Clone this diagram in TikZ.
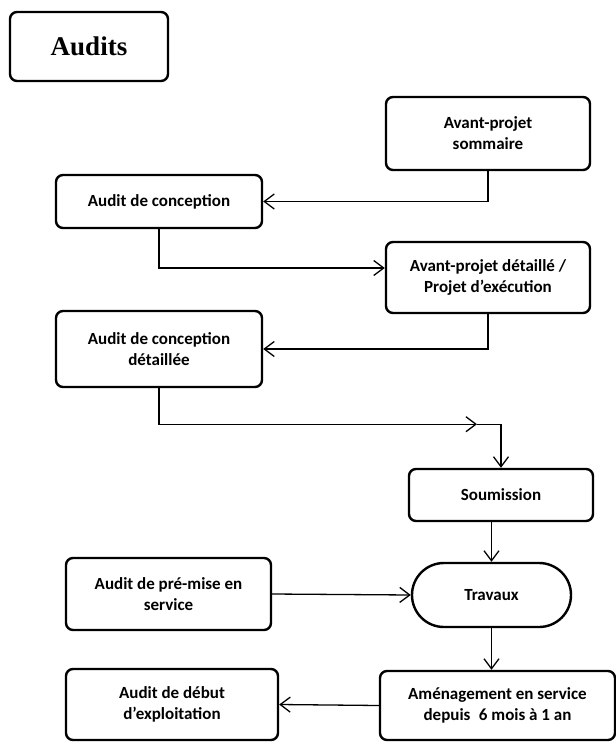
\documentclass[tikz,border=0pt]{standalone}
\usepackage{fontspec}
\setmainfont{Carlito}
\newfontfamily\titlefont{Liberation Serif}
\usetikzlibrary{arrows.meta,calc}
\begin{document}
\begin{tikzpicture}[x=1pt,y=-1pt,
  box/.style={draw, line width=2.4pt, rounded corners=7pt, align=center,
    font=\fontsize{17}{21}\selectfont\bfseries, inner sep=0pt},
  conn/.style={line width=1.3pt, -{Straight Barb[length=10pt,width=15pt]}},
  plainline/.style={line width=1.3pt}]
\useasboundingbox (0,0) rectangle (616,742);
\node[box, minimum width=158pt, minimum height=69pt,
  font=\titlefont\fontsize{27}{30}\selectfont\bfseries] (audits) at (89,46.5) {Audits};
\node[box, minimum width=204pt, minimum height=73pt] (aps) at (488,133.5) {Avant-projet\\sommaire};
\node[box, minimum width=206pt, minimum height=53pt] (ac) at (159,201.5) {Audit de conception};
\node[box, minimum width=204pt, minimum height=71pt] (apd) at (488,277.5) {Avant-projet détaillé /\\Projet d’exécution};
\node[box, minimum width=206pt, minimum height=76pt] (acd) at (159,349) {Audit de conception\\détaillée};
\node[box, minimum width=184pt, minimum height=52pt] (soum) at (501,495) {Soumission};
\node[box, minimum width=159pt, minimum height=64pt, rounded corners=31.9pt] (trav) at (491.5,595) {Travaux};
\node[box, minimum width=205pt, minimum height=72pt] (apms) at (168.5,594) {Audit de pré-mise en\\service};
\node[box, minimum width=235pt, minimum height=69pt] (amen) at (497.5,705.5) {Aménagement en service\\depuis\enspace 6 mois à 1 an};
\node[box, minimum width=212pt, minimum height=71pt] (adeb) at (172,704.5) {Audit de début\\d’exploitation};

\draw[conn] (aps.south) |- (ac.east);
\draw[conn] (ac.south) |- ($(apd.west)+(0,-9.5)$);
\draw[conn] (apd.south) |- (acd.east);
\coordinate (bend) at ($(soum.north |- acd.south)+(0,36)$);
\coordinate (midtip) at ($(bend)+(-24,0)$);
\draw[conn] (acd.south) |- (midtip);
\draw[conn] (midtip) -- (bend) -- (soum.north);
\draw[conn] (trav.north |- soum.south) -- (trav.north);
\draw[conn] (apms.east) -- (trav.west);
\draw[conn] (trav.south) -- (trav.south |- amen.north);
\draw[conn] (amen.west) -- (adeb.east);
\end{tikzpicture}
\end{document}
